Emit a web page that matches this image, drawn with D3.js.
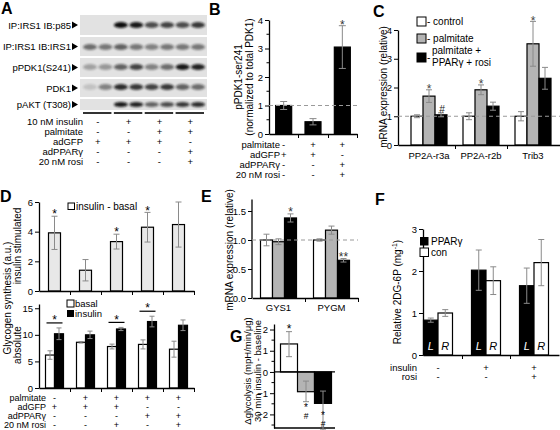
<!DOCTYPE html>
<html><head><meta charset="utf-8">
<script src="https://cdn.jsdelivr.net/npm/d3@7"></script>
<style>
body{margin:0;background:#fff;}
</style></head><body>
<svg id="fig" width="560" height="430" xmlns="http://www.w3.org/2000/svg"></svg>
<script>
// ---------------- DATA ----------------
// Panel A (western blots): band intensity per lane (8 lanes)
const blotLabels = ["IP:IRS1 IB:p85","IP:IRS1 IB:IRS1","pPDK1(S241)","PDK1","pAKT (T308)"];
const blotP85   = [0.0,0.0,1.0,0.95,0.7,0.75,0.7,0.8];
const blotIRS1  = [0.55,0.5,0.6,0.5,0.45,0.5,0.5,0.5];
const blotPPDK1 = [0.3,0.35,0.6,0.75,0.45,0.55,0.95,0.9];
const blotPDK1  = [0.15,0.45,0.85,0.8,0.75,0.8,0.6,0.55];
const blotPAKT  = [0.0,0.0,0.95,0.9,0.6,0.7,0.8,0.85];
const condALabels = ["10 nM insulin","palmitate","adGFP","adPPARγ","20 nM rosi"];
const condAValues = [["-","+","+","+"],["-","-","+","+"],["+","+","+","-"],["-","-","-","+"],["-","-","-","+"]];

// Panel B
const bMean = [1.0,0.43,3.05];
const bErr  = [0.14,0.11,0.75];
const bSig  = ["","","*"];
const bTicks = [0,1,2,3,4];
const bLabel = ["pPDK1-ser241","(normalized to total PDK1)"];
const condBLabels = ["palmitate","adGFP","adPPARγ","20 nM rosi"];
const condBValues = [["-","+","+"],["+","+","-"],["-","-","+"],["-","-","+"]];

// Panel C
const cGenes = ["PP2A-r3a","PP2A-r2b","Trib3"];
const cControl = [1.0,1.0,1.0],   cControlErr = [0.05,0.12,0.16];
const cPalm    = [1.7,1.92,3.52], cPalmErr    = [0.22,0.17,0.78];
const cRosi    = [1.05,1.35,2.32],cRosiErr    = [0.07,0.14,0.38];
const cPalmSig = ["*","*","*"], cRosiSig = ["#","",""];
const cTicks = [0,1,2,3,4];
const cLegend = [["- control"],["- palmitate"],["palmitate +","PPARγ + rosi"]];

// Panel D
const dDiff    = [3.92,1.4,3.33,4.3,4.48], dDiffErr = [1.12,0.72,0.5,1.0,1.52];
const dDiffSig = ["*","","*","*",""];
const dDiffTicks = [0,2,4,6];
const dBasal = [6.2,8.6,7.8,8.2,7.3],  dBasalErr = [0.8,0.15,0.45,0.85,1.5];
const dIns   = [10.2,10.0,11.1,12.5,11.8], dInsErr = [1.1,0.7,0.3,1.0,1.0];
const dPairSig = ["*","","*","*",""];
const dAbsTicks = [0,5,10,15];
const condDLabels = ["palmitate","adGFP","adPPARγ","20 nM rosi"];
const condDValues = [["-","+","+","+","+"],["+","+","+","-","-"],["-","-","-","+","+"],["-","-","+","-","+"]];

// Panel E
const eGenes = ["GYS1","PYGM"];
const eControl = [1.0,1.0],  eControlErr = [0.1,0.02];
const ePalm    = [0.97,1.17],ePalmErr    = [0.05,0.07];
const eRosi    = [1.38,0.65],eRosiErr    = [0.07,0.03];
const eRosiSig = ["*","**"];
const eTicks = [0,0.5,1.0,1.5];

// Panel F
const fPPARg = [0.83,2.02,1.65], fPPARgErr = [0.05,0.48,0.42];
const fCon   = [1.0,1.77,2.2],   fConErr   = [0.08,0.33,0.55];
const fTicks = [0,1,2,3];
const condFLabels = ["insulin","rosi"];
const condFValues = [["-","+","+"],["-","-","+"]];

// Panel G
const gVals = [1.32,-0.93,-1.48];
const gErrUp = [0.58,0.5,0.58], gErrDown = [0.6,0.47,1.25];
const gSig = [["*"],["*","#"],["*","#"]];
const gTicks = [-2,-1,0,1,2];

// ---------------- HELPERS ----------------
const svg = d3.select("#fig");
const F = '"Liberation Sans", Arial, Helvetica, sans-serif';
const GRAY = "#b4b4b4", LIGHT = "#e8e8e8", ERR = "#8a8a8a";

function txt(x,y,s,o={}){
  const t = svg.append("text").attr("x",x).attr("y",y).attr("font-family",F)
    .attr("font-size",o.size||9.5).attr("text-anchor",o.anchor||"start").attr("fill",o.fill||"#000").text(s);
  if(o.weight) t.attr("font-weight",o.weight);
  if(o.style) t.attr("font-style",o.style);
  if(o.baseline) t.attr("dominant-baseline",o.baseline);
  return t;
}
function vtxt(x,y,s,size){
  return svg.append("text").attr("transform",`translate(${x},${y}) rotate(-90)`)
    .attr("text-anchor","middle").attr("dominant-baseline","central")
    .attr("font-family",F).attr("font-size",size||10).text(s);
}
function letter(s,x,y){ txt(x,y,s,{size:16,weight:"bold"}); }
function yAxis(scale,x,ticks,fmt,minor){
  const g = svg.append("g").attr("transform",`translate(${x},0)`)
    .call(d3.axisLeft(scale).tickValues(ticks).tickFormat(fmt).tickSize(4).tickSizeOuter(0).tickPadding(2));
  g.attr("font-family",F).attr("font-size",9.5);
  g.select(".domain").attr("stroke-width",1.3);
  if(minor) g.selectAll("line.minor").data(minor).join("line").attr("class","minor")
    .attr("x1",-2.5).attr("x2",0).attr("y1",d=>scale(d)).attr("y2",d=>scale(d)).attr("stroke","#000");
  return g;
}
function xAxis(x0,x1,y,tickXs){
  const s = d3.scaleLinear().domain([x0,x1]).range([x0,x1]);
  const g = svg.append("g").attr("transform",`translate(0,${y})`)
    .call(d3.axisBottom(s).tickValues(tickXs).tickFormat("").tickSize(4).tickSizeOuter(0));
  g.select(".domain").attr("stroke-width",1.3);
  return g;
}
function bar(x,w,v,ys,fill){
  const y0 = ys(0), y1 = ys(v);
  svg.append("rect").attr("x",x).attr("y",Math.min(y0,y1)).attr("width",w)
    .attr("height",Math.abs(y1-y0)).attr("fill",fill).attr("stroke","#000").attr("stroke-width",1.2);
}
function err(cx,v,up,down,ys,cap){
  cap = cap||3;
  const a = ys(v+up), b = ys(v-down);
  const g = svg.append("g").attr("stroke",ERR).attr("stroke-width",1);
  g.append("line").attr("x1",cx).attr("x2",cx).attr("y1",a).attr("y2",b);
  [a,b].forEach(y=>g.append("line").attr("x1",cx-cap).attr("x2",cx+cap).attr("y1",y).attr("y2",y));
  return [a,b];
}
function mark(s,cx,cy,size,fill){
  size = size||12;
  const star = s.includes("*");
  const off = star ? 0.6*size : 0.36*size*0.85;
  txt(cx,cy+off,s,{size:star?size:size*0.85,anchor:"middle",fill:fill||"#000"});
}
// stacked "*" over "#" in one text element
function markStack(marks,cx,cy,size){
  const t = svg.append("text").attr("x",cx).attr("y",cy+0.6*size).attr("font-family",F)
    .attr("font-size",size).attr("text-anchor","middle");
  t.append("tspan").attr("x",cx).text(marks[0]);
  t.append("tspan").attr("x",cx).attr("dy",8).attr("font-size",size*0.85).text(marks[1]);
}
function dashed(x0,x1,y){
  svg.append("line").attr("x1",x0).attr("x2",x1).attr("y1",y).attr("y2",y)
    .attr("stroke","#9a9a9a").attr("stroke-dasharray","4,3").attr("stroke-width",1);
}
function condTable(labels,values,labelX,xs,y0,dy,size){
  labels.forEach((l,i)=>{
    const y = y0+i*dy;
    txt(labelX,y,l,{anchor:"end",baseline:"central",size:size||9.5});
    values[i].forEach((v,j)=>txt(xs[j],y,v,{anchor:"middle",baseline:"central",size:size||9.5}));
  });
}
function legendBox(x,y,s,fill){
  svg.append("rect").attr("x",x).attr("y",y).attr("width",s).attr("height",s)
    .attr("fill",fill).attr("stroke","#000").attr("stroke-width",1);
}

// ---------------- PANEL A ----------------
letter("A",1,14);
const defs = svg.append("defs");
defs.append("filter").attr("id","blur").attr("x","-50%").attr("y","-50%").attr("width","200%").attr("height","200%")
  .append("feGaussianBlur").attr("stdDeviation",1.1);
const blotData = [blotP85,blotIRS1,blotPPDK1,blotPDK1,blotPAKT];
const blotBox = [[15,35],[37,56],[58,77],[79,97],[99,110]];
const bandY = [25,47,67,87,104.5];
const lane = d3.scalePoint().domain(d3.range(8)).range([90,198]);
blotData.forEach((row,r)=>{
  svg.append("rect").attr("x",80).attr("y",blotBox[r][0]).attr("width",127)
    .attr("height",blotBox[r][1]-blotBox[r][0]).attr("fill","#e2e2e2");
  row.forEach((v,i)=>{
    if(v<=0) return;
    svg.append("ellipse").attr("cx",lane(i)).attr("cy",bandY[r]).attr("rx",7).attr("ry",r===4?2.6:3)
      .attr("fill","#111").attr("opacity",v).attr("filter","url(#blur)");
  });
  const yc = (blotBox[r][0]+blotBox[r][1])/2;
  txt(71,yc,blotLabels[r],{anchor:"end",baseline:"central",size:9.5});
  svg.append("path").attr("d",`M72,${yc-3.5}L78,${yc}L72,${yc+3.5}Z`).attr("fill","#000");
});
const groupX = d3.range(4).map(g=>(lane(2*g)+lane(2*g+1))/2);
d3.range(4).forEach(g=>{
  svg.append("line").attr("x1",lane(2*g)-7).attr("x2",lane(2*g+1)+6).attr("y1",113).attr("y2",113)
    .attr("stroke","#000").attr("stroke-width",1.6);
});
condTable(condALabels,condAValues,83,groupX,121.5,10);

// ---------------- PANEL B ----------------
letter("B",209,15);
const bY = d3.scaleLinear().domain([0,4]).range([134,20]);
const bX = d3.scaleBand().domain(d3.range(3)).range([269,357]);
yAxis(bY,269,bTicks,d3.format("d"),[0.5,1.5,2.5,3.5]);
bMean.forEach((v,i)=>{
  const cx = bX(i)+bX.bandwidth()/2;
  bar(cx-8,16,v,bY,"#000");
});
dashed(269,357,bY(1));
bMean.forEach((v,i)=>{
  const cx = bX(i)+bX.bandwidth()/2;
  const [top] = err(cx,v,bErr[i],bErr[i],bY,3.5);
  if(bSig[i]) mark(bSig[i],cx,top-4,12,"#333");
});
xAxis(269,357,134,[298,328,357]);
vtxt(238,77,bLabel[0],10);
vtxt(249,77,bLabel[1],10);
condTable(condBLabels,condBValues,280,d3.range(3).map(i=>bX(i)+bX.bandwidth()/2),144.5,10);

// ---------------- PANEL C ----------------
letter("C",373,17);
const cY = d3.scaleLinear().domain([0,4]).range([145,30]);
const cX = d3.scaleBand().domain(cGenes).range([403,559]);
yAxis(cY,398,cTicks,d3.format("d"));
const cSeries = [[cControl,cControlErr,"#fff"],[cPalm,cPalmErr,GRAY],[cRosi,cRosiErr,"#000"]];
const cw = 12;
cGenes.forEach((gname,gi)=>{
  const c = cX(gname)+cX.bandwidth()/2;
  cSeries.forEach((s,si)=> bar(c+(si-1.5)*cw,cw,s[0][gi],cY,s[2]));
});
dashed(398,560,cY(1));
cGenes.forEach((gname,gi)=>{
  const c = cX(gname)+cX.bandwidth()/2;
  cSeries.forEach((s,si)=>{
    const cx = c+(si-1)*cw;
    const [top] = err(cx,s[0][gi],s[1][gi],s[1][gi],cY,3);
    if(si===1 && cPalmSig[gi]) mark(cPalmSig[gi],cx,top-4,12,"#444");
    if(si===2 && cRosiSig[gi]) mark(cRosiSig[gi],cx+1,top-3,12,"#222");
  });
  txt(c,155,gname,{anchor:"middle",baseline:"central",size:9.5});
});
xAxis(398,560,145,[455,507]);
vtxt(383,87,"mRNA expression (relative)",10);
[["#fff",17],[GRAY,34],["#000",53]].forEach((d,i)=>{
  legendBox(417,d[1],9,d[0]);
});
txt(427,21.5,cLegend[0][0],{baseline:"central",size:10});
txt(427,38.5,cLegend[1][0],{baseline:"central",size:10});
txt(427,57.5,"-",{baseline:"central",size:10});
txt(432,50.5,cLegend[2][0],{baseline:"central",size:10});
txt(432,62,cLegend[2][1],{baseline:"central",size:10});

// ---------------- PANEL D ----------------
letter("D",0,202);
const dX = d3.scaleBand().domain(d3.range(5)).range([39,194]);
const dc = i=>dX(i)+dX.bandwidth()/2;
const dTopY = d3.scaleLinear().domain([0,6]).range([291,202]);
yAxis(dTopY,39,dDiffTicks,d3.format("d"));
dDiff.forEach((v,i)=>bar(dc(i)-6,12,v,dTopY,LIGHT));
dDiff.forEach((v,i)=>{
  const [top] = err(dc(i),v,dDiffErr[i],dDiffErr[i],dTopY,3);
  if(dDiffSig[i]) mark(dDiffSig[i],dc(i),top-5,12);
});
xAxis(39,194,291,d3.range(6).map(i=>dX(0)+i*dX.bandwidth()).slice(1));
legendBox(68,203,6.5,"#fff");
txt(76,206.5,"insulin - basal",{baseline:"central",size:10});

const dBotY = d3.scaleLinear().domain([0,15.8]).range([388,304]);
yAxis(dBotY,39,dAbsTicks,d3.format("d"));
const dw = 9;
dBasal.forEach((v,i)=>{ bar(dc(i)-dw,dw,v,dBotY,"#fff"); bar(dc(i),dw,dIns[i],dBotY,"#000"); });
dBasal.forEach((v,i)=>{
  const [t1] = err(dc(i)-dw/2,v,dBasalErr[i],dBasalErr[i],dBotY,2.5);
  const [t2] = err(dc(i)+dw/2,dIns[i],dInsErr[i],dInsErr[i],dBotY,2.5);
  if(dPairSig[i]){
    const ly = Math.min(t1,t2)-5;
    svg.append("line").attr("x1",dc(i)-dw+1).attr("x2",dc(i)+dw-1).attr("y1",ly).attr("y2",ly).attr("stroke","#000").attr("stroke-width",1.2);
    mark(dPairSig[i],dc(i),ly-6,12);
  }
});
xAxis(39,194,388,d3.range(6).map(i=>dX(0)+i*dX.bandwidth()).slice(1));
legendBox(67,300,7,"#fff");
svg.append("rect").attr("x",67).attr("y",310).attr("width",7).attr("height",7).attr("fill","#000");
txt(75,303.5,"basal",{baseline:"central",size:9.5});
txt(75,313.7,"insulin",{baseline:"central",size:9.5});
vtxt(7,298,"Glycogen synthesis (a.u.)",10);
vtxt(17,246,"insulin stimulated",10);
vtxt(17,345,"absolute",10);
condTable(condDLabels,condDValues,46,d3.range(5).map(dc),397.5,9,9);

// ---------------- PANEL E ----------------
letter("E",201,202);
const eY = d3.scaleLinear().domain([0,1.5]).range([298,211]);
const eX = d3.scaleBand().domain(eGenes).range([252,358]);
const eAx = yAxis(eY,252,eTicks,d3.format(".1f"));
eAx.select(".domain").attr("d","M0,"+eY(0)+"V"+eY(1.7));
const eSeries = [[eControl,eControlErr,"#fff"],[ePalm,ePalmErr,GRAY],[eRosi,eRosiErr,"#000"]];
const ew = 12;
eGenes.forEach((gname,gi)=>{
  const c = eX(gname)+eX.bandwidth()/2;
  eSeries.forEach((s,si)=>bar(c+(si-1.5)*ew,ew,s[0][gi],eY,s[2]));
});
dashed(252,358,eY(1));
eGenes.forEach((gname,gi)=>{
  const c = eX(gname)+eX.bandwidth()/2;
  eSeries.forEach((s,si)=>{
    const cx = c+(si-1)*ew;
    const [top] = err(cx,s[0][gi],s[1][gi],s[1][gi],eY,3);
    if(si===2 && eRosiSig[gi]) mark(eRosiSig[gi],cx,top-5,12,"#333");
  });
  txt(c,307,gname,{anchor:"middle",baseline:"central",size:9.5});
});
xAxis(252,358,298,[305,358]);
vtxt(229,250,"mRNA expression (relative)",10);

// ---------------- PANEL F ----------------
letter("F",375,205);
const fY = d3.scaleLinear().domain([0,3]).range([355,229]);
const fX = d3.scaleBand().domain(d3.range(3)).range([414,558]);
yAxis(fY,423,fTicks,d3.format("d"));
const fw = 14.5;
fPPARg.forEach((v,i)=>{
  const c = fX(i)+fX.bandwidth()/2;
  bar(c-fw,fw,v,fY,"#000");
  bar(c,fw,fCon[i],fY,"#fff");
});
fPPARg.forEach((v,i)=>{
  const c = fX(i)+fX.bandwidth()/2;
  err(c-fw/2,v,fPPARgErr[i],fPPARgErr[i],fY,3);
  err(c+fw/2,fCon[i],fConErr[i],fConErr[i],fY,3);
  txt(c-fw/2,fY(0)-9,"L",{anchor:"middle",baseline:"central",size:11,style:"italic",fill:"#fff"});
  txt(c+fw/2,fY(0)-9,"R",{anchor:"middle",baseline:"central",size:11,style:"italic"});
});
xAxis(423,559,355,[462,510]);
svg.append("rect").attr("x",420).attr("y",237).attr("width",8.5).attr("height",8.5).attr("fill","#000");
legendBox(420,248,8.5,"#fff");
txt(431,241.5,"PPARγ",{baseline:"central",size:10});
txt(431,252.5,"con",{baseline:"central",size:10});
svg.append("text").attr("transform","translate(397,292) rotate(-90)").attr("text-anchor","middle")
  .attr("dominant-baseline","central").attr("font-family",F).attr("font-size",10)
  .call(t=>{ t.append("tspan").text("Relative 2DG-6P (mg"); t.append("tspan").attr("dy",-3).attr("font-size",7).text("-1"); t.append("tspan").attr("dy",3).text(")"); });
condTable(condFLabels,condFValues,417,d3.range(3).map(i=>fX(i)+fX.bandwidth()/2),367,9.5);

// ---------------- PANEL G ----------------
letter("G",230,342);
const gY = d3.scaleLinear().domain([-2.64,2.26]).range([428,324]);
const gX = d3.scaleBand().domain(d3.range(3)).range([280.5,331.5]);
yAxis(gY,274,gTicks,d3.format("d"),[-2.5,-1.5,-0.5,0.5,1.5]);
const gFill = ["#fff",GRAY,"#000"];
gVals.forEach((v,i)=>bar(gX(i),gX.bandwidth(),v,gY,gFill[i]));
svg.append("line").attr("x1",274).attr("x2",335).attr("y1",gY(0)).attr("y2",gY(0)).attr("stroke","#000").attr("stroke-width",1.3);
svg.append("line").attr("x1",274).attr("x2",335).attr("y1",428).attr("y2",428).attr("stroke","#000").attr("stroke-width",1.3);
gVals.forEach((v,i)=>{
  const cx = gX(i)+gX.bandwidth()/2;
  const [top,bot] = err(cx,v,gErrUp[i],gErrDown[i],gY,3);
  if(v>0){ mark(gSig[i][0],cx,top-6,12); }
  else {
    const base = i===1 ? bot+3 : gY(-1.93);
    markStack(gSig[i],cx,base,10);
  }
});
vtxt(247,371,"Δglycolysis (mpH/min/μg)",9.5);
vtxt(257,371,"30 min insulin - baseline",9.5);
</script>
</body></html>
